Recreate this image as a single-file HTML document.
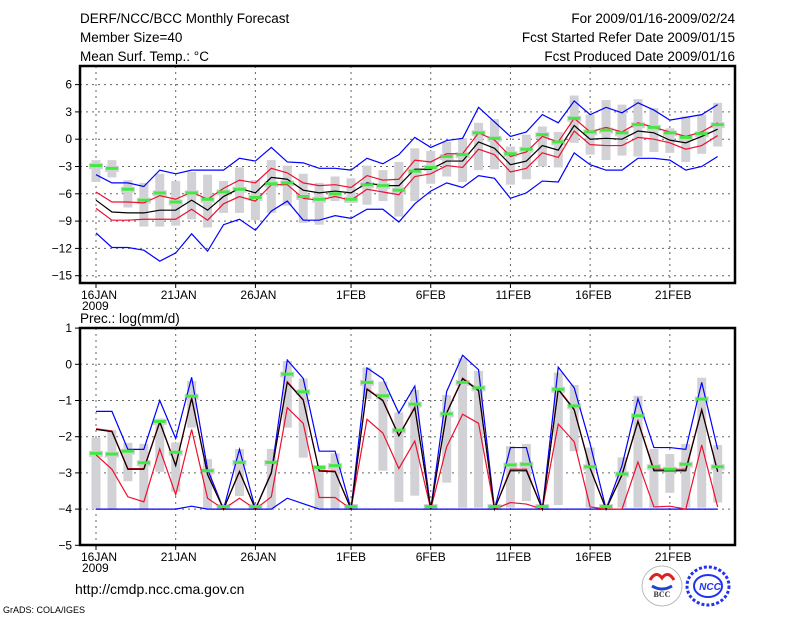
<!DOCTYPE html>
<html><head><meta charset="utf-8">
<style>
html,body{margin:0;padding:0;background:#fff;}
svg{display:block;font-family:"Liberation Sans",sans-serif;}
</style></head>
<body>
<svg id="chart" width="800" height="618" viewBox="0 0 800 618" xmlns="http://www.w3.org/2000/svg">
<text x="80" y="23" font-size="13.5">DERF/NCC/BCC Monthly Forecast</text>
<text x="80" y="42" font-size="13.5">Member Size=40</text>
<text x="80" y="61" font-size="13.5">Mean Surf. Temp.: °C</text>
<text x="735" y="23" font-size="13.5" text-anchor="end">For 2009/01/16-2009/02/24</text>
<text x="735" y="42" font-size="13.5" text-anchor="end">Fcst Started Refer Date 2009/01/15</text>
<text x="735" y="61" font-size="13.5" text-anchor="end">Fcst Produced Date 2009/01/16</text>
<text x="80" y="323" font-size="13.5">Prec.: log(mm/d)</text>
<text x="75" y="594" font-size="14">http://cmdp.ncc.cma.gov.cn</text>
<text x="3" y="613" font-size="9">GrADS: COLA/IGES</text>
<g>
<circle cx="662" cy="586" r="20" fill="#fff" stroke="#bbb" stroke-width="1"/>
<path d="M650 580 q6 -10 12 -2 q6 -8 12 2" stroke="#e02020" stroke-width="3" fill="none"/>
<path d="M652 586 q10 6 20 0" stroke="#2040d0" stroke-width="3" fill="none"/>
<text x="662" y="597" font-size="8" font-family="Liberation Serif,serif" font-weight="bold" text-anchor="middle" fill="#333">BCC</text>
</g>
<g>
<ellipse cx="708" cy="586" rx="21" ry="19" fill="#fff" stroke="#2233ee" stroke-width="3" stroke-dasharray="3 2"/>
<ellipse cx="708" cy="586" rx="14" ry="11" fill="none" stroke="#2233ee" stroke-width="2"/>
<text x="710" y="590" font-size="10" font-weight="bold" font-style="italic" text-anchor="middle" fill="#2233ee">NCC</text>
</g>
</svg>
<script>
// ---- Temperature panel data ----
const dayLabels = ["16JAN","21JAN","26JAN","1FEB","6FEB","11FEB","16FEB","21FEB"];
const dayLabelIdx = [0,5,10,16,21,26,31,36];
const tTicks = [6,3,0,-3,-6,-9,-12,-15];
const pTicks = [1,0,-1,-2,-3,-4,-5];
const tBlueUp = [-3.9,-4.8,-4.8,-5.2,-3.4,-3.8,-3.4,-3.4,-3.4,-2.1,-2.4,-0.9,-2.5,-2.6,-3.2,-3.2,-3.4,-2.1,-2.7,-1.7,0.2,-0.9,-0.15,0.1,3.5,1.9,0.3,0.8,2.7,1.8,4.2,2.7,3.5,2.9,4.0,3.2,2.1,2.4,2.7,3.8];
const tBlueLo = [-10.3,-11.9,-11.9,-12.2,-13.4,-12.5,-10.4,-12.3,-9.4,-8.8,-10.0,-7.9,-6.8,-8.9,-8.9,-8.4,-8.7,-7.7,-7.7,-9.1,-7.1,-5.7,-4.8,-5.3,-4.0,-4.3,-6.5,-5.9,-4.6,-4.7,-1.5,-2.8,-3.4,-3.4,-2.1,-2.1,-2.3,-3.4,-3.0,-1.9];
const tMean = [-6.7,-8.0,-8.1,-8.1,-7.8,-7.8,-6.7,-7.8,-6.3,-5.4,-5.9,-4.2,-4.4,-5.6,-5.9,-5.7,-5.9,-4.8,-5.1,-5.1,-3.3,-3.3,-2.4,-2.4,-0.3,-1.0,-2.8,-2.4,-0.7,-1.2,1.5,0.0,0.1,0.0,0.9,0.7,-0.1,-0.4,0.3,1.1];
const tRedUp = [-5.8,-6.9,-6.9,-7.0,-6.2,-6.6,-5.8,-6.6,-5.4,-4.5,-4.8,-3.2,-3.7,-4.8,-5.1,-5.0,-5.3,-4.0,-4.5,-4.4,-2.3,-2.5,-1.6,-1.6,0.7,-0.1,-1.9,-1.4,0.3,-0.3,2.3,0.8,1.3,0.8,1.8,1.3,0.8,0.3,0.8,1.8];
const tRedLo = [-7.6,-8.9,-8.9,-8.8,-8.8,-8.8,-7.7,-8.9,-7.1,-6.3,-6.8,-5.0,-5.0,-6.5,-6.7,-6.3,-6.7,-5.5,-5.8,-6.1,-4.1,-3.8,-2.9,-3.1,-1.1,-1.7,-3.6,-3.2,-1.5,-2.0,0.9,-0.6,-0.7,-0.7,0.2,0.0,-0.4,-1.1,-0.7,0.4];
const tObs = [-2.9,-3.2,-5.5,-6.7,-5.9,-6.9,-5.9,-6.6,-5.8,-5.5,-6.4,-4.9,-4.8,-6.3,-6.6,-6.0,-6.6,-5.0,-5.1,-5.6,-3.5,-3.1,-1.9,-1.7,0.7,0.1,-1.6,-1.1,0.5,-0.3,2.3,0.8,1.0,0.7,1.6,1.3,0.7,0.2,0.6,1.6];
const tBoxHi = [-2.3,-2.3,-4.5,-4.8,-3.8,-4.6,-3.6,-3.9,-4.6,-3.1,-4.5,-2.3,-2.9,-3.8,-4.8,-4.1,-4.3,-2.9,-3.4,-2.5,-1.0,-1.3,-0.3,0.1,1.8,2.2,-0.8,0.5,1.4,0.8,4.8,2.7,4.3,3.8,4.4,3.4,1.2,2.5,2.7,4.0];
const tBoxLo = [-4.7,-4.2,-7.5,-9.6,-9.6,-9.5,-8.8,-9.7,-8.1,-8.1,-8.9,-8.1,-7.3,-9.2,-9.4,-6.8,-7.0,-7.2,-6.8,-8.5,-6.8,-4.9,-4.1,-4.7,-3.4,-3.3,-5.0,-4.4,-3.0,-3.1,-0.4,-1.7,-2.3,-1.8,-1.9,-1.4,-1.5,-2.5,-1.6,-0.8];
// ---- Precipitation panel data ----
const pBlueUp = [-1.3,-1.3,-2.35,-2.35,-1.0,-2.05,-0.36,-2.9,-4,-2.35,-4,-3.0,0.12,-0.39,-2.4,-2.4,-4,-0.1,-0.4,-1.35,-0.6,-4,-0.75,0.25,-0.15,-4,-2.3,-2.3,-4,-0.08,-0.65,-2.2,-4,-2.8,-0.95,-2.3,-2.3,-2.35,-0.5,-2.35];
const pBlueLo = [-4,-4,-4,-4,-4,-4,-3.92,-4,-4,-4,-4,-4,-3.7,-3.85,-4,-4,-4,-4,-4,-4,-4,-4,-4,-4,-4,-4,-4,-4,-4,-4,-4,-4,-4,-4,-4,-4,-4,-4,-4,-4];
const pMean = [-1.8,-1.86,-2.9,-2.9,-1.6,-2.8,-0.94,-3.05,-4,-2.97,-4,-3.0,-0.5,-0.99,-2.95,-2.97,-4,-0.69,-1.01,-1.98,-1.2,-4,-1.35,-0.4,-0.73,-4,-2.94,-2.94,-4,-0.7,-1.26,-2.88,-4,-3.06,-1.58,-2.94,-2.94,-2.94,-1.26,-2.97];
const pRedUp = [-1.78,-1.84,-2.88,-2.88,-1.58,-2.78,-0.92,-3.03,-4,-2.95,-4,-2.98,-0.48,-0.97,-2.93,-2.95,-4,-0.67,-0.99,-1.96,-1.18,-4,-1.33,-0.38,-0.71,-4,-2.9,-2.9,-4,-0.68,-1.24,-2.86,-4,-3.04,-1.56,-2.9,-2.9,-2.9,-1.24,-2.95];
const pRedLo = [-2.5,-2.9,-3.66,-3.8,-2.34,-3.6,-1.8,-3.7,-4,-3.7,-4,-3.66,-1.2,-1.63,-3.68,-3.68,-4,-1.52,-1.9,-2.88,-2.12,-4,-2.28,-1.38,-1.63,-4,-3.82,-3.86,-4,-1.65,-2.14,-3.94,-4,-4,-2.7,-3.94,-3.92,-4,-2.23,-3.94];
const pObs = [-2.46,-2.48,-2.4,-2.72,-1.58,-2.43,-0.88,-2.94,-3.93,-2.71,-3.93,-2.71,-0.27,-0.76,-2.85,-2.8,-3.93,-0.5,-0.87,-1.82,-1.1,-3.93,-1.37,-0.5,-0.65,-3.93,-2.78,-2.76,-3.93,-0.69,-1.15,-2.83,-3.93,-3.03,-1.42,-2.83,-2.9,-2.76,-0.96,-2.83];
const pBoxHi = [-2.03,-1.82,-2.17,-2.2,-1.5,-2.16,-0.46,-2.62,-3.9,-2.34,-3.9,-2.34,0.09,-0.39,-2.83,-2.46,-3.9,-0.09,-0.48,-1.33,-0.71,-3.9,-0.85,0.17,-0.18,-3.9,-2.26,-2.2,-3.9,-0.23,-0.57,-2.3,-3.9,-2.57,-0.87,-2.34,-2.48,-2.2,-0.37,-2.23];
const pBoxLo = [-4,-4,-3.23,-4,-2.97,-3.52,-1.75,-4,-4,-3.64,-4,-4,-1.75,-2.58,-4,-4,-4,-0.96,-2.94,-3.8,-3.63,-4,-3.27,-3.96,-3.96,-4,-3.96,-3.78,-4,-3.89,-2.4,-3.96,-4,-3.96,-3.96,-3.96,-3.55,-3.96,-3.96,-3.82];

const NS = "http://www.w3.org/2000/svg";
const svg = document.getElementById("chart");
const xDay = i => 96 + 15.94 * i;
const yT = v => 139.2 - 9.1 * v;
const yP = v => 364.3 - 36.2 * v;

function mk(tag, attrs, parent) {
  const e = document.createElementNS(NS, tag);
  for (const k in attrs) e.setAttribute(k, attrs[k]);
  (parent || svg).appendChild(e);
  return e;
}

function panel(prefix, top, bottom, ticks, yf, boxHi, boxLo, obs, lines, wideH) {
  const g = mk("g", {});
  
  
  // grid
  ticks.forEach(t => {
    const y = yf(t);
    if (y > top + 1 && y < bottom - 1) {
      const l = mk("line", {x1: 80, x2: 735, y1: y, y2: y, stroke: "#666", "stroke-dasharray": "2 4", "stroke-width": 1}, g);
      
      
    }
    const tk = mk("line", {x1: 75, x2: 80, y1: y, y2: y, stroke: "#000"}, g);
    
    
    const tx = mk("text", {x: 72, y: y + 4, "font-size": 12, "text-anchor": "end"}, g);
    tx.textContent = t < 0 ? "\u2212" + Math.abs(t) : String(t);
    
    
  });
  dayLabelIdx.forEach((d, k) => {
    const x = xDay(d);
    const l = mk("line", {x1: x, x2: x, y1: top, y2: bottom, stroke: "#666", "stroke-dasharray": "2 4"}, g);
    
    
    const tk = mk("line", {x1: x, x2: x, y1: bottom, y2: bottom + 5, stroke: "#000"}, g);
    
    
    const tx = mk("text", {x: x - 15, y: bottom + 16, "font-size": 12}, g);
    tx.textContent = dayLabels[k];
    
    
  });
  const yr = mk("text", {x: 82, y: bottom + 27, "font-size": 12}, g);
  yr.textContent = "2009";
  
  
  // boxes
  boxHi.forEach((h, i) => {
    const x = xDay(i);
    const y1 = yf(h), y2 = yf(boxLo[i]);
    const b = mk("rect", {x: x - 4.5, y: y1, width: 9, height: Math.max(2, y2 - y1), fill: "#d2d2d6"}, g);
    
    
    const yo = yf(obs[i]);
    const w = mk("rect", {x: x - 7, y: yo - wideH, width: 14, height: wideH * 2 + 1, fill: "#d2d2d6"}, g);
    
    
  });
  // lines
  lines.forEach(([arr, col, name]) => {
    const p = mk("polyline", {points: arr.map((v, i) => xDay(i) + "," + yf(v)).join(" "), fill: "none", stroke: col, "stroke-width": 1.2}, g);
    
    
  });
  obs.forEach((v, i) => {
    const r = mk("rect", {x: xDay(i) - 6, y: yf(v) - 1.5, width: 12, height: 3, fill: "#44e844"}, g);
    
    
  });
  const f = mk("rect", {x: 80, y: top, width: 655, height: bottom - top, fill: "none", stroke: "#000", "stroke-width": 2.5}, g);
  
  
}

panel("temp", 66, 283, tTicks, yT, tBoxHi, tBoxLo, tObs,
  [[tBlueUp, "#0000ff", "temp-max-line"], [tBlueLo, "#0000ff", "temp-min-line"],
   [tRedUp, "#ee1030", "temp-upper-line"], [tRedLo, "#ee1030", "temp-lower-line"],
   [tMean, "#000", "temp-mean-line"]], 2.5);
panel("prec", 328, 545, pTicks, yP, pBoxHi, pBoxLo, pObs,
  [[pBlueUp, "#0000ff", "prec-max-line"], [pBlueLo, "#0000ff", "prec-min-line"],
   [pRedLo, "#ee1030", "prec-lower-line"], [pRedUp, "#ee1030", "prec-upper-line"],
   [pMean, "#000", "prec-mean-line"]], 2.5);
</script>
</body></html>
